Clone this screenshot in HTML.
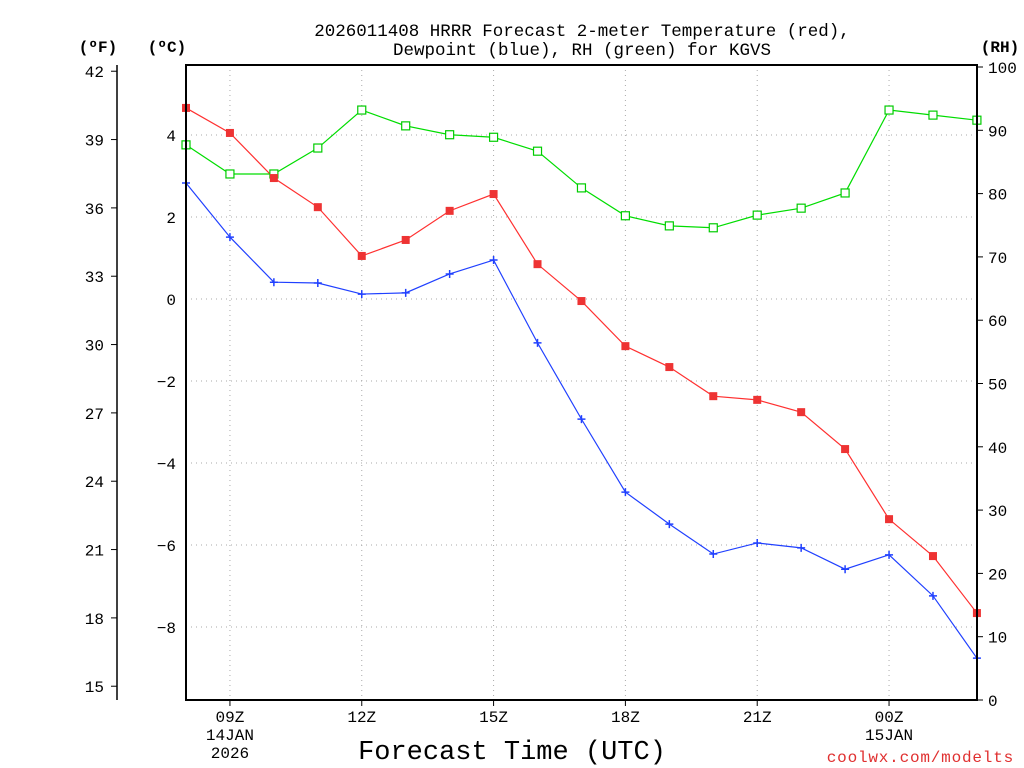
<!DOCTYPE html>
<html><head><meta charset="utf-8"><style>
html,body{margin:0;padding:0;background:#fff;}
svg{display:block;font-family:"Liberation Mono",monospace;}
</style></head><body>
<svg id="chart" width="1024" height="768" viewBox="0 0 1024 768">
<text x="582" y="36" font-size="17.5" text-anchor="middle">2026011408 HRRR Forecast 2-meter Temperature (red),</text>
<text x="582" y="55" font-size="17.5" text-anchor="middle">Dewpoint (blue), RH (green) for KGVS</text>
<text x="98" y="52" font-size="16" font-weight="bold" text-anchor="middle">(ºF)</text>
<text x="167" y="52" font-size="16" font-weight="bold" text-anchor="middle">(ºC)</text>
<text x="1000" y="52" font-size="16" font-weight="bold" text-anchor="middle">(RH)</text>
<g id="grid"></g><g id="axes"></g><g id="series"></g>
<rect x="186" y="65" width="791" height="635" fill="none" stroke="#000" stroke-width="2"/>
<text x="512" y="759" font-size="27" text-anchor="middle">Forecast Time (UTC)</text>
<text x="1014" y="762" font-size="16" fill="#e03030" text-anchor="end" letter-spacing="0.8">coolwx.com/modelts</text>
</svg>
<script>
const hours=[8,9,10,11,12,13,14,15,16,17,18,19,20,21,22,23,24,25,26];
const tempC=[4.66,4.05,2.95,2.24,1.05,1.44,2.15,2.56,0.85,-0.05,-1.15,-1.66,-2.37,-2.46,-2.76,-3.66,-5.37,-6.27,-7.66];
const dewC=[2.83,1.51,0.41,0.39,0.12,0.15,0.61,0.95,-1.07,-2.93,-4.71,-5.49,-6.22,-5.95,-6.07,-6.59,-6.24,-7.24,-8.76];
const rh=[87.7,83.1,83.1,87.2,93.2,90.7,89.3,88.9,86.7,80.9,76.5,74.9,74.6,76.6,77.7,80.1,93.2,92.4,91.6];
const xTickHours=[9,12,15,18,21,24];
const xTickLabels=["09Z","12Z","15Z","18Z","21Z","00Z"];
const xSub=[["14JAN","2026"],null,null,null,null,["15JAN"]];
const cTicks=[4,2,0,-2,-4,-6,-8];
const fTicks=[42,39,36,33,30,27,24,21,18,15];
const rhTicks=[0,10,20,30,40,50,60,70,80,90,100];
const NS="http://www.w3.org/2000/svg";
const X=h=>186+(h-8)*43.94;
const YC=c=>299-c*41;
const YF=f=>YC((f-32)*5/9);
const YR=r=>700-r*6.33;
function mk(p,t,a){const e=document.createElementNS(NS,t);for(const k in a)e.setAttribute(k,a[k]);p.appendChild(e);return e;}
const grid=document.getElementById('grid'),axes=document.getElementById('axes'),ser=document.getElementById('series');
xTickHours.forEach((h,i)=>{
 const l=mk(grid,'line',{x1:X(h),x2:X(h),y1:65,y2:700,stroke:'#aaa','stroke-dasharray':'1,4'});
 
 
 const t=mk(axes,'line',{x1:X(h),x2:X(h),y1:700,y2:706,stroke:'#000'});
 
 
 const tx=mk(axes,'text',{x:X(h),y:722,'font-size':16,'text-anchor':'middle'});tx.textContent=xTickLabels[i];
 
 
 if(xSub[i])xSub[i].forEach((s,j)=>{const st=mk(axes,'text',{x:X(h),y:740+j*18,'font-size':16,'text-anchor':'middle'});st.textContent=s;
  
  });
});
cTicks.forEach(c=>{
 const l=mk(grid,'line',{x1:186,x2:977,y1:YC(c),y2:YC(c),stroke:'#aaa','stroke-dasharray':'1,4'});
 
 
 const t=mk(axes,'text',{x:176,y:YC(c)+6,'font-size':16,'text-anchor':'end'});t.textContent=c<0?'\u2212'+(-c):c;
 
 
});
const fl=mk(axes,'line',{x1:117,x2:117,y1:65,y2:700,stroke:'#000','stroke-width':1.5});


fTicks.forEach(f=>{
 const t=mk(axes,'line',{x1:111,x2:117,y1:YF(f),y2:YF(f),stroke:'#000'});
 
 
 const tx=mk(axes,'text',{x:104,y:YF(f)+6,'font-size':16,'text-anchor':'end'});tx.textContent=f;
 
 
});
rhTicks.forEach(r=>{
 const t=mk(axes,'line',{x1:977,x2:983,y1:YR(r),y2:YR(r),stroke:'#000'});
 
 
 const tx=mk(axes,'text',{x:988,y:YR(r)+6,'font-size':16});tx.textContent=r;
 
 
});
function line(vals,yf,col,name){
 const p=mk(ser,'polyline',{points:vals.map((v,i)=>X(hours[i])+','+yf(v)).join(' '),fill:'none',stroke:col,'stroke-width':1.2});
 
 
}
line(rh,YR,'#00dd00','rh-line');
line(tempC,YC,'#ff3030','temperature-line');
line(dewC,YC,'#2040ff','dewpoint-line');
rh.forEach((v,i)=>{const m=mk(ser,'rect',{x:X(hours[i])-4,y:YR(v)-4,width:8,height:8,fill:'#fff',stroke:'#00cc00','stroke-width':1.2});
 
 });
tempC.forEach((v,i)=>{const m=mk(ser,'rect',{x:X(hours[i])-4,y:YC(v)-4,width:8,height:8,fill:'#ee3333'});
 
 });
dewC.forEach((v,i)=>{const x=X(hours[i]),y=YC(v);
 const m=mk(ser,'path',{d:`M${x-4},${y}H${x+4}M${x},${y-4}V${y+4}`,stroke:'#2040ff','stroke-width':1.5});
 
 });
</script>
</body></html>
